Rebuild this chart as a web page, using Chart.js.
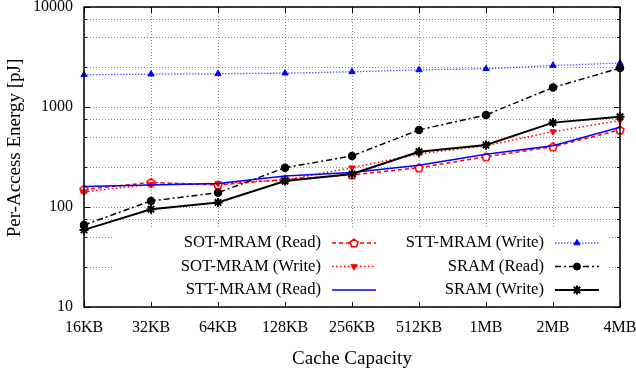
<!DOCTYPE html>
<html>
<head>
<meta charset="utf-8">
<script src="https://cdn.jsdelivr.net/npm/chart.js@4.4.0/dist/chart.umd.min.js"></script>
<style>
  html, body { margin: 0; padding: 0; background: #fff; }
  #wrap { width: 636px; height: 374px; }
</style>
</head>
<body>
<div id="wrap"><canvas id="chart"></canvas></div>
<script>
const capacities = ['16KB', '32KB', '64KB', '128KB', '256KB', '512KB', '1MB', '2MB', '4MB'];

const sotRead  = [150, 176, 166, 189, 209, 247, 318, 401, 590];
const sotWrite = [142, 168, 172, 186, 247, 339, 410, 567, 731];
const sttRead  = [160, 166, 172, 204, 221, 261, 336, 410, 627];
const sttWrite = [2100, 2130, 2150, 2180, 2250, 2350, 2410, 2600, 2750];
const sramRead  = [66, 115, 139, 247, 324, 590, 833, 1565, 2450];
const sramWrite = [59, 95, 111, 182, 214, 357, 417, 698, 801];

const yTicks  = [10, 25, 50, 75, 100, 250, 500, 750, 1000, 2500, 5000, 7500, 10000];
const yLabels = [10, 100, 1000, 10000];

const FONT = { family: 'Liberation Serif', size: 16 };
const TITLE_FONT = { family: 'Liberation Serif', size: 19 };

// open pentagon marker, like gnuplot's
function pentagon(color) {
    const c = document.createElement('canvas');
    c.width = 12; c.height = 12;
    const g = c.getContext('2d');
    g.beginPath();
    for (let i = 0; i < 5; i++) {
        const a = -Math.PI / 2 + i * 2 * Math.PI / 5;
        const px = 6 + 4.2 * Math.cos(a), py = 6.4 + 4.2 * Math.sin(a);
        i ? g.lineTo(px, py) : g.moveTo(px, py);
    }
    g.closePath();
    g.fillStyle = '#fff';
    g.fill();
    g.lineWidth = 1.6;
    g.strokeStyle = color;
    g.stroke();
    return c;
}

const series = [
    { label: 'SOT-MRAM (Read)', data: sotRead, borderColor: '#ff0000', backgroundColor: '#ff0000',
      borderWidth: 1.5, borderDash: [4, 3], pointStyle: pentagon('#ff0000'), pointRadius: 5 },
    { label: 'SOT-MRAM (Write)', data: sotWrite, borderColor: '#ff0000', backgroundColor: '#ff0000',
      borderWidth: 1.5, borderDash: [1.5, 2.5], pointStyle: 'triangle', pointRotation: 180, pointRadius: 3.6, pointBorderWidth: 1 },
    { label: 'STT-MRAM (Read)', data: sttRead, borderColor: '#0000ff', backgroundColor: '#0000ff',
      borderWidth: 1.5, pointRadius: 0 },
    { label: 'STT-MRAM (Write)', data: sttWrite, borderColor: 'rgba(40,40,255,0.75)', backgroundColor: '#0000ff',
      borderWidth: 1.3, borderDash: [1.5, 1.5], pointStyle: 'triangle', pointRadius: 3.6, pointBorderWidth: 1, pointBorderColor: '#0000ff' },
    { label: 'SRAM (Read)', data: sramRead, borderColor: '#000', backgroundColor: '#000',
      borderWidth: 1.5, borderDash: [6, 3, 2, 3], pointStyle: 'circle', pointRadius: 3.5 },
    { label: 'SRAM (Write)', data: sramWrite, borderColor: '#000', backgroundColor: '#000',
      borderWidth: 2, pointStyle: 'star', pointRadius: 4.5, pointBorderWidth: 2 }
];

// border with inward ticks on all four sides, plus the y axis title
const framePlugin = {
    id: 'frame',
    afterDatasetsDraw(chart) {
        const { ctx, chartArea: a, scales: { x, y } } = chart;
        ctx.save();
        ctx.strokeStyle = '#000';
        ctx.lineWidth = 1;
        ctx.beginPath();
        yTicks.forEach(v => {
            const py = Math.round(y.getPixelForValue(v)) + 0.5;
            const len = yLabels.includes(v) ? 6 : 3;
            ctx.moveTo(a.left, py); ctx.lineTo(a.left + len, py);
            ctx.moveTo(a.right, py); ctx.lineTo(a.right - len, py);
        });
        capacities.forEach((c, i) => {
            const px = Math.round(x.getPixelForValue(i)) + 0.5;
            ctx.moveTo(px, a.bottom); ctx.lineTo(px, a.bottom - 6);
            ctx.moveTo(px, a.top); ctx.lineTo(px, a.top + 6);
        });
        ctx.stroke();
        ctx.lineWidth = 1.5;
        ctx.strokeRect(a.left, a.top, a.right - a.left, a.bottom - a.top);

        ctx.translate(15, 148);
        ctx.rotate(-Math.PI / 2);
        ctx.font = '19px "Liberation Serif"';
        ctx.fillStyle = '#000';
        ctx.textAlign = 'center';
        ctx.textBaseline = 'middle';
        ctx.fillText('Per-Access Energy [pJ]', 0, 0);
        ctx.restore();
    }
};

// gnuplot style opaque key, two columns
const keyPlugin = {
    id: 'key',
    afterDraw(chart) {
        const ctx = chart.ctx;
        ctx.save();
        ctx.fillStyle = '#fff';
        ctx.fillRect(112, 228, 497, 74);
        const cols = [{ textX: 321, x0: 332, x1: 376 }, { textX: 544, x0: 555, x1: 599 }];
        const rows = [243, 266.5, 290];
        chart.data.datasets.forEach((ds, i) => {
            const col = cols[Math.floor(i / 3)];
            const yy = rows[i % 3];
            ctx.font = '16.6px "Liberation Serif"';
            ctx.fillStyle = '#000';
            ctx.textAlign = 'right';
            ctx.textBaseline = 'middle';
            ctx.fillText(ds.label, col.textX, yy);
            ctx.strokeStyle = ds.borderColor;
            ctx.lineWidth = ds.borderWidth;
            ctx.setLineDash(ds.borderDash || []);
            ctx.beginPath();
            ctx.moveTo(col.x0, yy);
            ctx.lineTo(col.x1, yy);
            ctx.stroke();
            ctx.setLineDash([]);
            if (ds.pointRadius > 0) {
                ctx.fillStyle = ds.backgroundColor;
                ctx.strokeStyle = ds.pointBorderColor || ds.borderColor;
                ctx.lineWidth = ds.pointBorderWidth || 1;
                Chart.helpers.drawPoint(ctx, {
                    pointStyle: ds.pointStyle,
                    rotation: ds.pointRotation || 0,
                    radius: ds.pointRadius,
                    borderWidth: ds.pointBorderWidth || 1
                }, (col.x0 + col.x1) / 2, yy);
            }
        });
        ctx.restore();
    }
};

new Chart(document.getElementById('chart'), {
    type: 'line',
    data: {
        labels: capacities,
        datasets: series.map((s, i) => Object.assign({
            fill: false, tension: 0, clip: false, order: series.length - i
        }, s))
    },
    options: {
        responsive: true,
        maintainAspectRatio: false,
        animation: false,
        devicePixelRatio: 1,
        layout: { padding: { left: 0, right: 16, top: 7, bottom: 0 } },
        plugins: { legend: { display: false }, tooltip: { enabled: false } },
        scales: {
            x: {
                type: 'category',
                offset: false,
                grid: { color: 'rgba(0,0,0,0.45)', lineWidth: 1, drawTicks: false, offset: false },
                border: { display: false, dash: [1, 2] },
                ticks: { font: FONT, color: '#000', padding: 11, maxRotation: 0, autoSkip: false },
                title: { display: true, text: 'Cache Capacity', font: TITLE_FONT, color: '#000', padding: { top: 4, bottom: 4 } },
                afterFit(scale) {
                    scale.height = 67;
                    scale.paddingLeft = 0;
                    scale.paddingRight = 0;
                }
            },
            y: {
                type: 'logarithmic',
                min: 10,
                max: 10000,
                afterBuildTicks(scale) { scale.ticks = yTicks.map(v => ({ value: v })); },
                grid: { color: 'rgba(0,0,0,0.45)', lineWidth: 1, drawTicks: false },
                border: { display: false, dash: [1, 2] },
                ticks: {
                    font: FONT, color: '#000', padding: 11, autoSkip: false,
                    callback: v => yLabels.includes(v) ? String(v) : ''
                },
                afterFit(scale) {
                    scale.width = 84;
                    scale.paddingTop = 0;
                    scale.paddingBottom = 0;
                }
            }
        }
    },
    plugins: [framePlugin, keyPlugin]
});
</script>
</body>
</html>
